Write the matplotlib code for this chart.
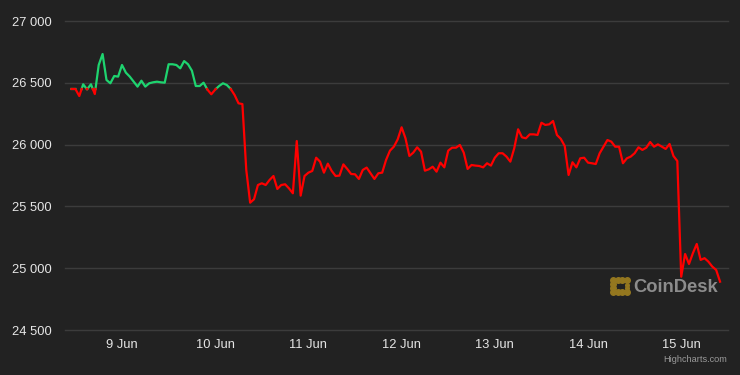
import numpy as np
import pandas as pd
import matplotlib
matplotlib.use('Agg')
import matplotlib.pyplot as plt
import matplotlib.dates as mdates
from matplotlib.ticker import FuncFormatter

# hourly BTC price, 8 Jun 11:00 -> 15 Jun 10:00
start = '2023-06-08 11:00'
prices = [
    26450, 26450, 26393, 26488, 26447, 26488, 26409, 26644, 26733, 26523,
    26496, 26555, 26550, 26644, 26582, 26550, 26509, 26469, 26517, 26469,
    26496, 26504, 26509, 26504, 26501, 26650, 26650, 26644, 26617, 26676,
    26650, 26598, 26474, 26474, 26501, 26445, 26407, 26445, 26474, 26496,
    26482, 26450, 26401, 26334, 26328, 25795, 25530, 25558, 25673, 25687,
    25673, 25714, 25746, 25641, 25673, 25679, 25646, 25606, 26029, 25587,
    25746, 25773, 25787, 25894, 25862, 25773, 25846, 25787, 25746, 25749,
    25840, 25803, 25762, 25760, 25722, 25795, 25814, 25768, 25722, 25768,
    25773, 25876, 25951, 25983, 26043, 26140, 26051, 25908, 25935, 25978,
    25943, 25789, 25800, 25821, 25781, 25854, 25816, 25951, 25975, 25975,
    25997, 25935, 25803, 25835, 25830, 25827, 25816, 25849, 25830, 25894,
    25930, 25930, 25903, 25862, 25970, 26124, 26059, 26051, 26083, 26083,
    26078, 26177, 26159, 26164, 26191, 26078, 26046, 25989, 25754, 25857,
    25816, 25889, 25894, 25854, 25849, 25843, 25930, 25983, 26037, 26024,
    25983, 25983, 25849, 25889, 25903, 25930, 25978, 25957, 25975, 26021,
    25983, 26002, 25983, 25965, 26005, 25908, 25867, 24931, 25115, 25034,
    25121, 25196, 25067, 25081, 25053, 25013, 24986, 24891,
]
threshold = 26450
y_ticks = [24500, 25000, 25500, 26000, 26500, 27000]

times = pd.date_range(start, periods=len(prices), freq='h')
xs = mdates.date2num(times.to_pydatetime())
ys = np.array(prices, dtype=float)

# insert crossing points so green/red pieces meet at the threshold
px, py = [xs[0]], [ys[0]]
for i in range(1, len(ys)):
    a, b = ys[i - 1] - threshold, ys[i] - threshold
    if a * b < 0:
        f = a / (a - b)
        px.append(xs[i - 1] + f * (xs[i] - xs[i - 1]))
        py.append(threshold)
    px.append(xs[i])
    py.append(ys[i])
px, py = np.array(px), np.array(py)

bg = '#222222'
fig = plt.figure(figsize=(7.4, 3.75), dpi=100, facecolor=bg)
ax = fig.add_axes([65 / 740, 1 - 330 / 375, 663 / 740, 309 / 375], facecolor=bg)

ax.plot(px, np.where(py >= threshold, py, np.nan), color='#1ed46f', lw=1.6, solid_joinstyle='round')
ax.plot(px, np.where(py <= threshold, py, np.nan), color='#ff0000', lw=1.6, solid_joinstyle='round')

day0 = mdates.date2num(pd.Timestamp('2023-06-09').to_pydatetime())
ax.set_xlim(day0 - 0.6116, day0 + 6.502)
ax.set_ylim(24500, 27000)
ax.set_yticks(y_ticks)
ax.yaxis.set_major_formatter(FuncFormatter(lambda v, p: f'{int(v):,}'.replace(',', ' ')))
ax.xaxis.set_major_locator(mdates.DayLocator())
ax.xaxis.set_major_formatter(FuncFormatter(lambda v, p: f'{mdates.num2date(v).day} Jun'))

ax.grid(axis='y', color='#3c3c3c', lw=1)
for g in ax.get_ygridlines():
    g.set_clip_on(False)
ax.set_axisbelow(True)
for s in ax.spines.values():
    s.set_visible(False)
ax.tick_params(length=0, labelsize=9.3, labelcolor='#e6e6e6')
ax.tick_params(axis='y', pad=9.5)
ax.tick_params(axis='x', pad=6.5)
for lab in ax.get_xticklabels() + ax.get_yticklabels():
    lab.set_family('Liberation Sans')

# CoinDesk watermark
gold = '#94771f'
dots_x = [613, 617.5, 622, 626.5, 613, 613, 613, 617.5, 622, 626.5]
dots_y = [279.5, 279.5, 279.5, 279.5, 283.5, 287.5, 291.5, 291.5, 291.5, 291.5]
fig.add_artist(plt.Line2D([d / 740 for d in dots_x], [1 - d / 375 for d in dots_y],
                          ls='none', marker='o', ms=4, color=gold))
fig.add_artist(plt.Line2D([626.5 / 740, 626.5 / 740], [1 - 284.5 / 375, 1 - 288 / 375],
                          ls='none', marker='o', ms=2.6, color=gold))
fig.text(633 / 740, 1 - 287 / 375, 'CoinDesk', color='#8c8c8c', fontsize=13.2,
         fontweight='bold', family='Liberation Sans', va='center', ha='left')
fig.text(727 / 740, 1 - 359 / 375, 'Highcharts.com', color='#9a9a9a', fontsize=6.6,
         family='Liberation Sans', va='center', ha='right')

fig.savefig('out.png', dpi=100, facecolor=bg)
